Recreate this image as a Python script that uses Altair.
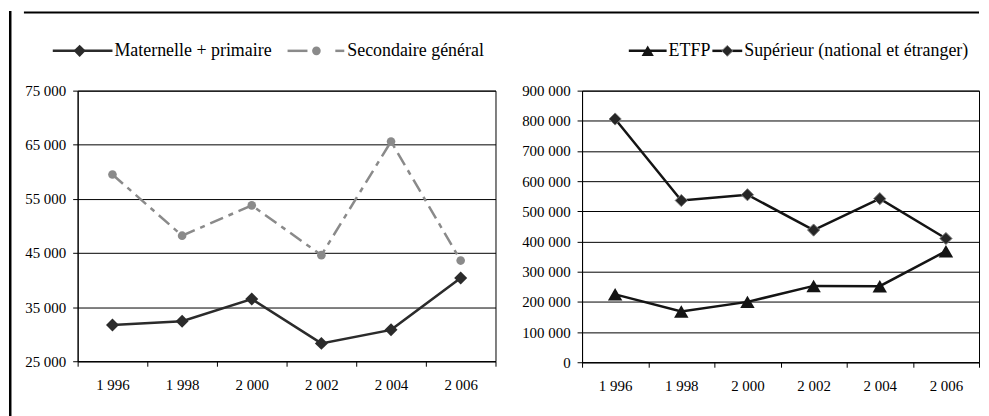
import altair as alt
import pandas as pd

# ---------------- data ----------------
years = ["1 996", "1 998", "2 000", "2 002", "2 004", "2 006"]
maternelle = [31700, 32400, 36500, 28300, 30800, 40400]
secondaire = [59500, 48200, 53800, 44600, 65600, 43600]
etfp = [225000, 168000, 200000, 253000, 252000, 368000]
superieur = [806000, 536000, 555000, 438000, 542000, 410000]

left_names = ["Maternelle + primaire", "Secondaire général"]
right_names = ["ETFP", "Supérieur (national et étranger)"]
left_ticks = [25000, 35000, 45000, 55000, 65000, 75000]
right_ticks = [0, 100000, 200000, 300000, 400000, 500000, 600000, 700000, 800000, 900000]

FONT = "Liberation Serif"
DARK = "#2b2b2b"
GREY = "#8a8a8a"
BLACK = "#141414"

df_mat = pd.DataFrame({"annee": years, "valeur": maternelle})
df_sec = pd.DataFrame({"annee": years, "valeur": secondaire})
df_etfp = pd.DataFrame({"annee": years, "valeur": etfp})
df_sup = pd.DataFrame({"annee": years, "valeur": superieur})
one = pd.DataFrame({"k": [0]})

label_expr = "replace(format(datum.value, ','), ',', ' ')"


def xenc():
    return alt.X(
        "annee:O",
        sort=years,
        bandPosition=0.5,
        scale=alt.Scale(type="band", paddingInner=0, paddingOuter=0),
        axis=alt.Axis(
            title=None, tickBand="extent", labelAngle=0, tickSize=5,
            labelPadding=11, labelFontSize=15, labelFont=FONT,
            labelColor="black", grid=False,
        ),
    )


def yenc(domain, ticks):
    return alt.Y(
        "valeur:Q",
        scale=alt.Scale(domain=domain, nice=False, zero=False),
        axis=alt.Axis(
            title=None, values=ticks, labelExpr=label_expr, grid=True,
            gridColor="black", gridWidth=1, gridOpacity=1, tickSize=5,
            labelPadding=7, labelFontSize=15, labelFont=FONT,
            labelColor="black",
        ),
    )


def series(df, domain, ticks, color, dash, shape, size, fill, pstroke=None):
    line = alt.Chart(df).mark_line(
        color=color, strokeWidth=2.5, **({"strokeDash": dash} if dash else {})
    ).encode(x=xenc(), y=yenc(domain, ticks))
    pkw = dict(shape=shape, size=size, filled=True, fill=fill, opacity=1)
    if pstroke:
        pkw.update(stroke=pstroke, strokeWidth=1)
    pts = alt.Chart(df).mark_point(**pkw).encode(x=xenc(), y=yenc(domain, ticks))
    return line + pts


def hrule(x1, x2, y, color, width=2.5):
    return alt.Chart(one).mark_rule(color=color, strokeWidth=width).encode(
        x=alt.value(x1), x2=alt.value(x2), y=alt.value(y)
    )


def sym(x, y, shape, size, fill, stroke=None):
    kw = dict(shape=shape, size=size, filled=True, fill=fill, opacity=1)
    if stroke:
        kw.update(stroke=stroke, strokeWidth=1)
    return alt.Chart(one).mark_point(**kw).encode(x=alt.value(x), y=alt.value(y))


def label(x, y, txt):
    return alt.Chart(one).mark_text(
        align="left", baseline="middle", font=FONT, fontSize=18, color="black"
    ).encode(x=alt.value(x), y=alt.value(y), text=alt.value(txt))


LY = -40

# ---------------- left panel ----------------
left_dom = [25000, 75000]
left = alt.layer(
    series(df_sec, left_dom, left_ticks, GREY, [14, 6, 5, 6], "circle", 75, GREY),
    series(df_mat, left_dom, left_ticks, DARK, None, "diamond", 170, DARK),
    # legend
    hrule(-25, 35, LY, DARK),
    sym(2, LY, "diamond", 150, DARK),
    label(37, LY, left_names[0]),
    hrule(211, 231, LY, GREY),
    hrule(259, 268, LY, GREY),
    sym(240, LY, "circle", 75, GREY),
    label(271, LY, left_names[1]),
    # page frame
    alt.Chart(one).mark_rule(color="black", strokeWidth=2.5).encode(
        x=alt.value(-67.75), y=alt.value(-80), y2=alt.value(328)
    ),
    hrule(-54, 906, -78.5, "black", 2),
).properties(width=420, height=272)

# ---------------- right panel ----------------
right_dom = [0, 900000]
right = alt.layer(
    series(df_etfp, right_dom, right_ticks, BLACK, None, "triangle-up", 210, BLACK),
    series(df_sup, right_dom, right_ticks, BLACK, None, "diamond", 150, "#262626", "#7a7a7a"),
    # legend
    hrule(47, 85, LY, BLACK),
    sym(66, LY, "triangle-up", 150, BLACK),
    label(87, LY, right_names[0]),
    hrule(131, 161, LY, BLACK),
    sym(146, LY, "diamond", 120, "#262626", "#7a7a7a"),
    label(163, LY, right_names[1]),
).properties(width=399, height=273)

chart = (
    alt.hconcat(left, right, spacing=87, bounds="flush")
    .properties(padding=0)
    .configure(font=FONT)
    .configure_view(stroke="black", strokeWidth=1)
    .configure_axis(
        labelFont=FONT, labelColor="black", domainColor="black",
        tickColor="black", domainWidth=1, tickWidth=1,
    )
)

chart.save("out.html", embed_options={"renderer": "svg", "actions": False})
